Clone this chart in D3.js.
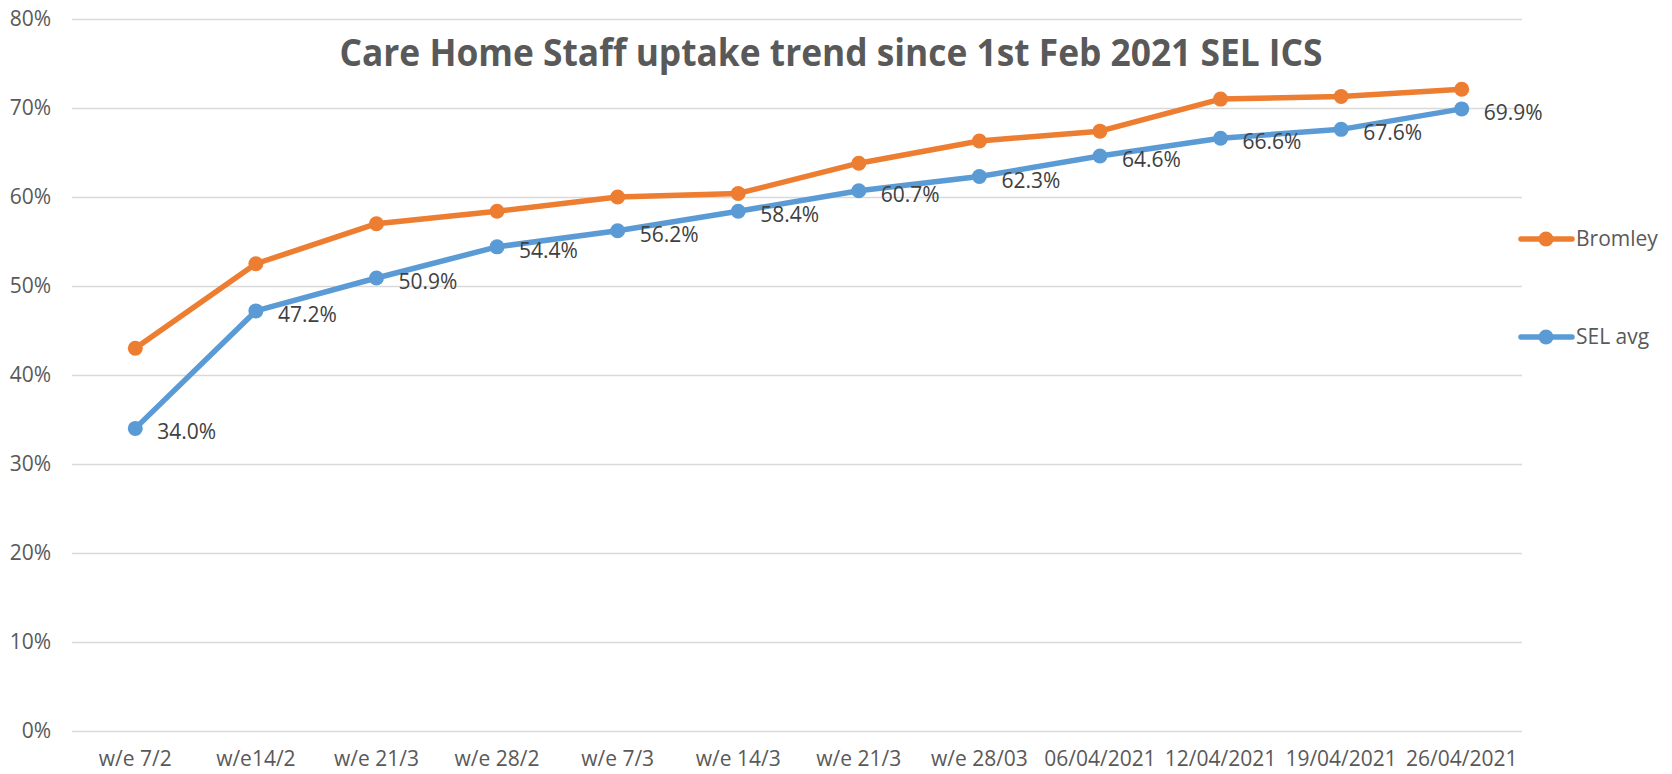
<!DOCTYPE html>
<html>
<head>
<meta charset="utf-8">
<script src="https://cdn.jsdelivr.net/npm/d3@7"></script>
<style>
  body { margin: 0; background: #fff; }
  svg { display: block; font-family: "Open Sans", sans-serif; }
</style>
</head>
<body>
<div id="chart"></div>
<script>
// Categories (week labels)
const weeks = ["w/e 7/2", "w/e14/2", "w/e 21/3", "w/e 28/2", "w/e 7/3", "w/e 14/3",
  "w/e 21/3", "w/e 28/03", "06/04/2021", "12/04/2021", "19/04/2021", "26/04/2021"];

// Series values (fraction of staff vaccinated)
const bromley = [0.430, 0.525, 0.570, 0.584, 0.600, 0.604, 0.638, 0.663, 0.674, 0.710, 0.713, 0.721];
const selAvg = [0.340, 0.472, 0.509, 0.544, 0.562, 0.584, 0.607, 0.623, 0.646, 0.666, 0.676, 0.699];

// Y ticks
const yTicks = [0, 0.1, 0.2, 0.3, 0.4, 0.5, 0.6, 0.7, 0.8];

const seriesNames = ["Bromley", "SEL avg"];
const seriesColors = ["#ED7D31", "#5B9BD5"];

const width = 1672, height = 774;
const margin = { top: 19, right: 150, bottom: 43, left: 72 };
const plotLeft = 75; // first category band starts a little right of the gridlines

const svg = d3.select("#chart")
  .append("svg")
  .attr("width", width)
  .attr("height", height);

svg.append("rect").attr("width", width).attr("height", height).attr("fill", "#fff");

// scales
const x = d3.scaleBand()
  .domain(d3.range(weeks.length))
  .range([plotLeft, width - margin.right])
  .padding(0);

const y = d3.scaleLinear()
  .domain([0, 0.8])
  .range([height - margin.bottom, margin.top]);

const cx = (i) => x(i) + x.bandwidth() / 2;

// gridlines + y labels
const yAxis = svg.append("g")
  .attr("transform", `translate(${margin.left},0)`)
  .call(d3.axisLeft(y)
    .tickValues(yTicks)
    .tickFormat(d3.format(".0%"))
    .tickSizeInner(-(width - margin.left - margin.right))
    .tickSizeOuter(0)
    .tickPadding(21));
yAxis.select(".domain").remove();
yAxis.selectAll(".tick line").attr("stroke", "#D9D9D9").attr("stroke-width", 1.5);
yAxis.selectAll(".tick text")
  .attr("fill", "#595959")
  .style("font-size", "21px")
  .style("font-family", "'Open Sans', sans-serif");

// x labels
const xAxis = svg.append("g")
  .attr("transform", `translate(0,${height - margin.bottom})`)
  .call(d3.axisBottom(x).tickFormat((i) => weeks[i]).tickSize(0).tickPadding(20));
xAxis.select(".domain").remove();
xAxis.selectAll(".tick text")
  .attr("fill", "#595959")
  .style("font-size", "21px")
  .style("font-family", "'Open Sans', sans-serif");

// title
svg.append("text")
  .attr("x", 831)
  .attr("y", 66)
  .attr("text-anchor", "middle")
  .attr("fill", "#595959")
  .attr("textLength", 983)
  .attr("lengthAdjust", "spacingAndGlyphs")
  .style("font-size", "38px")
  .style("font-weight", "bold")
  .text("Care Home Staff uptake trend since 1st Feb 2021 SEL ICS");

// lines
const line = d3.line()
  .x((d, i) => cx(i))
  .y((d) => y(d));

[bromley, selAvg].forEach((vals, k) => {
  const g = svg.append("g");
  g.append("path")
    .datum(vals)
    .attr("d", line)
    .attr("fill", "none")
    .attr("stroke", seriesColors[k])
    .attr("stroke-width", 5.5)
    .attr("stroke-linejoin", "round")
    .attr("stroke-linecap", "round");
  g.selectAll("circle")
    .data(vals)
    .enter()
    .append("circle")
    .attr("cx", (d, i) => cx(i))
    .attr("cy", (d) => y(d))
    .attr("r", 7.5)
    .attr("fill", seriesColors[k]);
});

// data labels for SEL avg
svg.append("g")
  .selectAll("text")
  .data(selAvg)
  .enter()
  .append("text")
  .attr("x", (d, i) => cx(i) + 22)
  .attr("y", (d) => y(d) + 11)
  .attr("fill", "#404040")
  .style("font-size", "21px")
  .text((d) => d3.format(".1%")(d));

// legend
const legendY = [239, 337];
seriesNames.forEach((name, k) => {
  const lg = svg.append("g");
  lg.append("line")
    .attr("x1", 1521).attr("x2", 1572)
    .attr("y1", legendY[k]).attr("y2", legendY[k])
    .attr("stroke", seriesColors[k])
    .attr("stroke-width", 5.5)
    .attr("stroke-linecap", "round");
  lg.append("circle")
    .attr("cx", 1546).attr("cy", legendY[k])
    .attr("r", 7.5)
    .attr("fill", seriesColors[k]);
  lg.append("text")
    .attr("x", 1576)
    .attr("y", legendY[k] + 7)
    .attr("fill", "#595959")
    .style("font-size", "21px")
    .text(name);
});
</script>
</body>
</html>
